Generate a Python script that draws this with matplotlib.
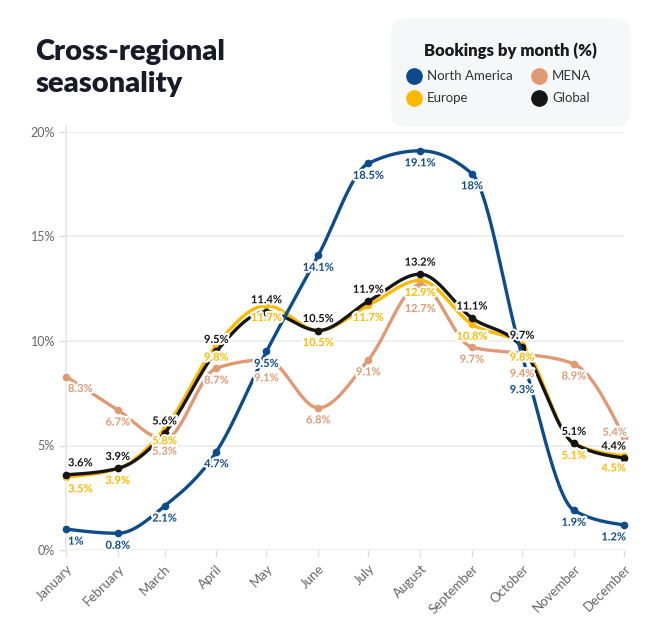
import datetime as dt
import numpy as np
import matplotlib
matplotlib.use("Agg")
import matplotlib.pyplot as plt
import matplotlib.dates as mdates
import matplotlib.patheffects as pe
from matplotlib.patches import FancyBboxPatch
from matplotlib.lines import Line2D

plt.rcParams['font.family'] = ['Lato', 'DejaVu Sans']

# data (bookings by month, %)
months = ["January", "February", "March", "April", "May", "June",
          "July", "August", "September", "October", "November", "December"]
north_america = [1, 0.8, 2.1, 4.7, 9.5, 14.1, 18.5, 19.1, 18, 9.3, 1.9, 1.2]
europe = [3.5, 3.9, 5.8, 9.8, 11.7, 10.5, 11.7, 12.9, 10.8, 9.8, 5.1, 4.5]
mena = [8.3, 6.7, 5.3, 8.7, 9.1, 6.8, 9.1, 12.7, 9.7, 9.4, 8.9, 5.4]
global_ = [3.6, 3.9, 5.6, 9.5, 11.4, 10.5, 11.9, 13.2, 11.1, 9.7, 5.1, 4.4]

dates = [dt.datetime(2023, m, 1) for m in range(1, 13)]
xs = mdates.date2num(dates)

C_NA = "#0d4c8b"
C_EU = "#fdb900"
C_MENA = "#df9a74"
C_GL = "#151515"


def monotone_curve(x, y, n=30):
    # monotone cubic (d3 curveMonotoneX style) for the drawn line
    x = np.asarray(x, float)
    y = np.asarray(y, float)
    h = np.diff(x)
    s = np.diff(y) / h
    t = np.zeros(len(x))
    for i in range(1, len(x) - 1):
        p = (s[i - 1] * h[i] + s[i] * h[i - 1]) / (h[i - 1] + h[i])
        t[i] = (np.sign(s[i - 1]) + np.sign(s[i])) * min(abs(s[i - 1]), abs(s[i]), 0.5 * abs(p))
    t[0] = (3 * s[0] - t[1]) / 2
    t[-1] = (3 * s[-1] - t[-2]) / 2
    px, py = [], []
    for i in range(len(x) - 1):
        u = np.linspace(0, 1, n)
        h00 = 2 * u**3 - 3 * u**2 + 1
        h10 = u**3 - 2 * u**2 + u
        h01 = -2 * u**3 + 3 * u**2
        h11 = u**3 - u**2
        px.extend(x[i] + u * h[i])
        py.extend(h00 * y[i] + h10 * h[i] * t[i] + h01 * y[i + 1] + h11 * h[i] * t[i + 1])
    return np.array(px), np.array(py)


fig = plt.figure(figsize=(6.66, 6.24), dpi=100)
ax = fig.add_axes([66 / 666, 1 - 550 / 624, (624 - 66) / 666, (550 - 132) / 624])

series = [
    ("Europe", europe, C_EU, 2, "below"),
    ("Global", global_, C_GL, 3, "above"),
    ("MENA", mena, C_MENA, 4, "below"),
    ("North America", north_america, C_NA, 5, "below"),
]

# labels pushed further down where they would collide
extra_drop = {("MENA", 4): 6, ("MENA", 7): 12, ("MENA", 9): 8, ("North America", 9): 22}

halo = [pe.withStroke(linewidth=3, foreground="white")]

for name, vals, col, z, pos in series:
    cx, cy = monotone_curve(xs, vals)
    ax.plot(cx, cy, color=col, lw=2.4, zorder=z, clip_on=False, solid_capstyle="round")
    ax.plot(xs, vals, "o", color=col, ms=4.5, zorder=z, clip_on=False)
    lab_col = C_GL if name == "Global" else col
    for i, (xv, v) in enumerate(zip(xs, vals)):
        dy = 12 if pos == "above" else -12 - extra_drop.get((name, i), 0)
        ha = "center"
        dx = 0
        if i == 0:
            ha, dx = "left", 2
        elif i == 11:
            ha, dx = "right", 2
        if name == "MENA" and i == 11:
            dy = 5
            dx = 3
        txt = f"{v:g}%"
        ax.annotate(txt, (xv, v), xytext=(dx, dy), textcoords="offset pixels",
                    ha=ha, va="center", fontsize=8, fontweight="bold",
                    color=lab_col, path_effects=halo, zorder=10,
                    annotation_clip=False)

ax.set_ylim(0, 20)
ax.set_xlim(xs[0], xs[-1])
ax.set_yticks([0, 5, 10, 15, 20])
ax.set_yticklabels(["0%", "5%", "10%", "15%", "20%"])
ax.set_xticks(xs)
ax.set_xticklabels(months, rotation=45, ha="right", rotation_mode="anchor")
ax.grid(axis="y", color="#ebebeb", lw=1.2, zorder=0)
for sp in ["top", "right", "bottom"]:
    ax.spines[sp].set_visible(False)
ax.spines["left"].set_color("#e6e6e6")
ax.spines["left"].set_linewidth(1.2)
ax.spines["left"].set_bounds(0, 20.3)
ax.tick_params(axis="both", colors="#e0e0e0", length=5, width=1,
               labelcolor="#666666")
ax.tick_params(axis="y", pad=3, labelsize=9)
ax.tick_params(axis="x", pad=4, labelsize=9.5)
ax.set_axisbelow(True)

# title
fig.text(35 / 666, 1 - 52 / 624, "Cross-regional", fontsize=21, fontweight="heavy",
         color="#161b2a", va="center", ha="left")
fig.text(35 / 666, 1 - 84 / 624, "seasonality", fontsize=21, fontweight="heavy",
         color="#161b2a", va="center", ha="left")

# legend box
box = FancyBboxPatch((391 / 666, 1 - 127 / 624), (631 - 391) / 666, (127 - 18.5) / 624,
                     boxstyle="round,pad=0,rounding_size=0.025",
                     transform=fig.transFigure, facecolor="#f6f7f9", edgecolor="none")
fig.add_artist(box)
fig.text(510 / 666, 1 - 51 / 624, "Bookings by month (%)", fontsize=12,
         fontweight="heavy", color="#1a1a1a", ha="center", va="center")
legend_items = [("North America", C_NA, 414, 76), ("MENA", C_MENA, 539, 76),
                ("Europe", C_EU, 414, 98), ("Global", C_GL, 539, 98)]
for name, col, lx, ly in legend_items:
    fig.add_artist(Line2D([lx / 666], [1 - ly / 624], marker="o", ms=11, color=col,
                          transform=fig.transFigure, lw=0))
    fig.text((lx + 13) / 666, 1 - ly / 624, name, fontsize=9.5, color="#333333",
             ha="left", va="center")

fig.savefig("out.png", dpi=100, facecolor="white")
